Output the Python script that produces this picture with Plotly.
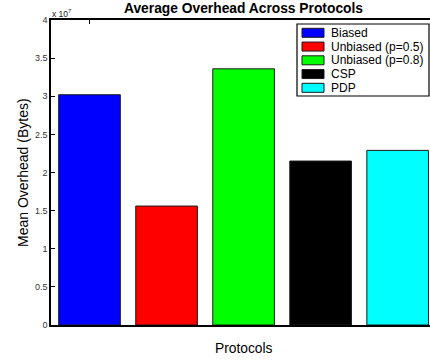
import plotly.graph_objects as go

protocols = ["Biased", "Unbiased (p=0.5)", "Unbiased (p=0.8)", "CSP", "PDP"]
positions = [1, 2, 3, 4, 5]
overhead = [3.02e7, 1.56e7, 3.36e7, 2.15e7, 2.29e7]
colors = ["#0000ff", "#ff0000", "#00ff00", "#000000", "#00ffff"]
ytick_vals = [0, 0.5e7, 1e7, 1.5e7, 2e7, 2.5e7, 3e7, 3.5e7, 4e7]
ytick_text = ["0", "0.5", "1", "1.5", "2", "2.5", "3", "3.5", "4"]

W, H = 430, 360
L, R, T, B = 51, 0, 20, 35
PW, PH = W - L - R, H - T - B


def px2x(px):
    return (px - L) / PW


def px2y(py):
    return 1 - (py - T) / PH


FONT = "Liberation Sans, Arial, sans-serif"

fig = go.Figure()
for name, pos, val, col in zip(protocols, positions, overhead, colors):
    fig.add_trace(go.Bar(
        x=[pos], y=[val], name=name, width=0.8,
        marker=dict(color=col, line=dict(color="#1a1a1a", width=1)),
        showlegend=False,
    ))

shapes = []
annotations = []
# legend box
shapes.append(dict(type="rect", xref="paper", yref="paper",
                   x0=px2x(297), x1=px2x(429), y0=px2y(24), y1=px2y(96),
                   line=dict(color="black", width=1.2), fillcolor="white", layer="above"))
row0, step = 32.8, 13.75
for i, (name, col) in enumerate(zip(protocols, colors)):
    cy = row0 + i * step
    shapes.append(dict(type="rect", xref="paper", yref="paper",
                       x0=px2x(302), x1=px2x(324), y0=px2y(cy - 4.5), y1=px2y(cy + 4.5),
                       line=dict(color="#1a1a1a", width=1), fillcolor=col, layer="above"))
    annotations.append(dict(text=name, xref="paper", yref="paper",
                            x=px2x(329), y=px2y(cy), xanchor="left", yanchor="middle",
                            showarrow=False, font=dict(family=FONT, size=12, color="black")))

# title
annotations.append(dict(text="<b>Average Overhead Across Protocols</b>", xref="paper", yref="paper",
                        x=px2x(243.5), y=px2y(8.5), xanchor="center", yanchor="middle",
                        showarrow=False, font=dict(family=FONT, size=13.8, color="black")))
# x label
annotations.append(dict(text="Protocols", xref="paper", yref="paper",
                        x=px2x(243.5), y=px2y(348), xanchor="center", yanchor="middle",
                        showarrow=False, font=dict(family=FONT, size=13.8, color="black")))
# y label
annotations.append(dict(text="Mean Overhead (Bytes)", xref="paper", yref="paper",
                        x=px2x(22.5), y=px2y(172.5), xanchor="center", yanchor="middle",
                        textangle=-90, showarrow=False,
                        font=dict(family=FONT, size=14, color="black")))
# exponent
annotations.append(dict(text="x 10<sup>7</sup>", xref="paper", yref="paper",
                        x=px2x(50), y=px2y(13), xanchor="left", yanchor="middle",
                        showarrow=False, font=dict(family=FONT, size=8.5, color="#222")))

fig.update_layout(
    width=W, height=H,
    margin=dict(l=L, r=R, t=T, b=B, pad=0),
    paper_bgcolor="white", plot_bgcolor="white",
    barmode="overlay",
    shapes=shapes, annotations=annotations,
    xaxis=dict(range=[0.5, 5.42], tickvals=[1], showticklabels=False,
               ticks="inside", ticklen=4, tickcolor="black", showline=True,
               linecolor="black", linewidth=1.5, mirror="ticks", showgrid=False,
               zeroline=False, layer="below traces"),
    yaxis=dict(range=[0, 4e7], tickvals=ytick_vals, ticktext=ytick_text,
               ticks="inside", ticklen=4, tickcolor="black", showline=True,
               linecolor="black", linewidth=1.5, showgrid=False, zeroline=False,
               tickfont=dict(family=FONT, size=9, color="#333")),
    font=dict(family=FONT),
)

fig.write_html(
    "out.html",
    config={"displayModeBar": False},
    post_script="document.body.style.margin='0';document.body.style.overflow='hidden';",
)
